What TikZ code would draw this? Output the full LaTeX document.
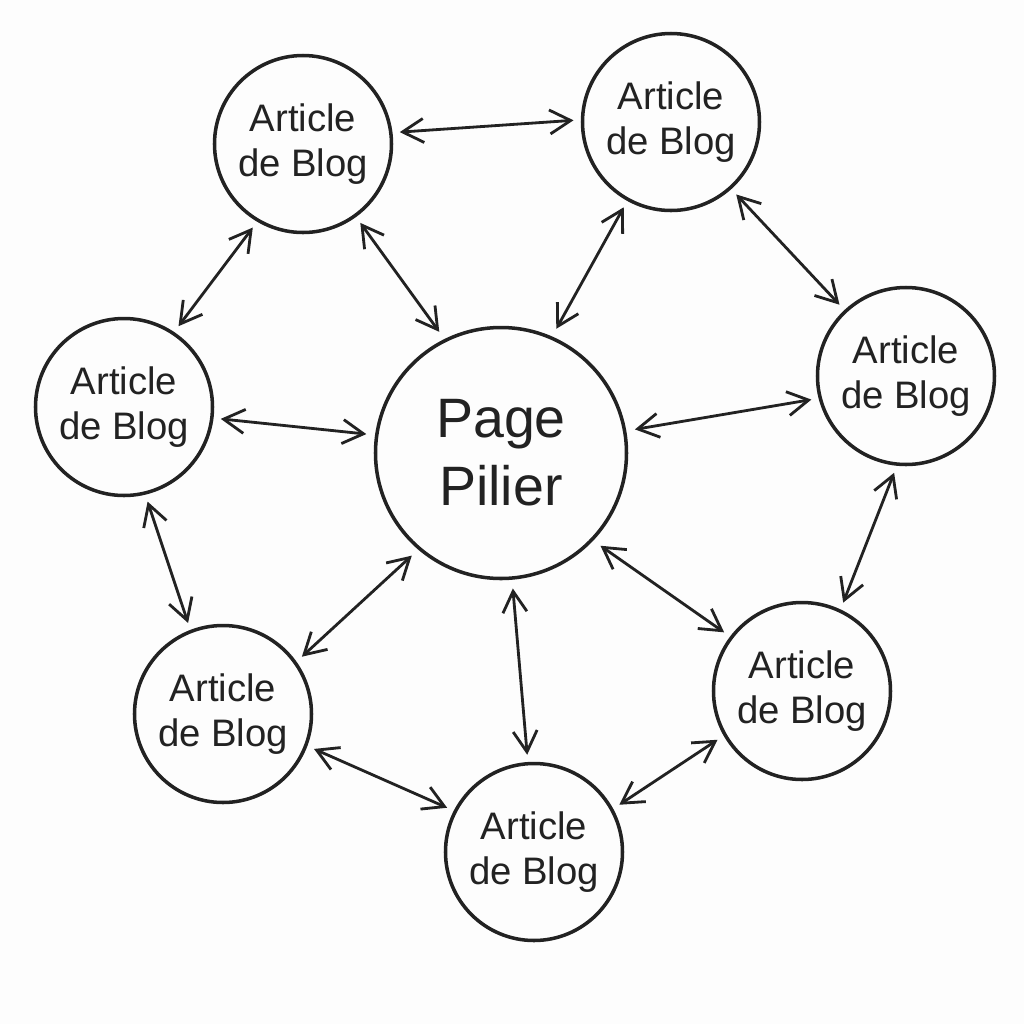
\documentclass[tikz,border=0pt]{standalone}
\usepackage{fontspec}
\setmainfont{Liberation Sans}
\usetikzlibrary{arrows.meta}
\definecolor{inkc}{HTML}{222222}
\definecolor{paperc}{HTML}{FDFDFD}
\tikzset{
    article/.style={draw=inkc, circle, line width=1pt, minimum size=1.77cm, inner sep=0pt, outer sep=0.09cm, text=inkc, align=center, font=\fontsize{10.9}{12.8}\selectfont},
    pillar/.style={article, minimum size=2.51cm, outer sep=0.105cm, font=\fontsize{15.8}{19.3}\selectfont},
    link/.style={draw=inkc, line width=0.8pt, {Straight Barb[length=2.1mm,width=2.4mm]}-{Straight Barb[length=2.1mm,width=2.4mm]}}
}
\begin{document}
\begin{tikzpicture}
    \fill[paperc] (0,0) rectangle (10.24,-10.24);
    \useasboundingbox (0,0) rectangle (10.24,-10.24);
    \node[pillar] (page) at (5.01,-4.53) {Page\\Pilier};
    \node[article] (art1) at (3.03,-1.44) {Article\\de Blog};
    \node[article] (art2) at (6.71,-1.22) {Article\\de Blog};
    \node[article] (art3) at (9.06,-3.76) {Article\\de Blog};
    \node[article] (art4) at (8.02,-6.91) {Article\\de Blog};
    \node[article] (art5) at (5.34,-8.52) {Article\\de Blog};
    \node[article] (art6) at (2.23,-7.14) {Article\\de Blog};
    \node[article] (art7) at (1.24,-4.07) {Article\\de Blog};

    % ring
    \draw[link] (art1.7.6) -- (art2.179.4);
    \draw[link] (art2.-48.2) -- (art3.133);
    \draw[link] (art3.-97.3) -- (art4.65.9);
    \draw[link] (art4.-150.3) -- (art5.29.7);
    \draw[link] (art5.153.2) -- (art6.-21.9);
    \draw[link] (art6.111.6) -- (art7.-76.5);
    \draw[link] (art7.56.3) -- (art1.-121.8);

    % spokes
    \draw[link] (art1.-54.6) -- (page.117.9);
    \draw[link] (art2.-119.4) -- (page.66.5);
    \draw[link] (art3.-166.5) -- (page.10.7);
    \draw[link] (art4.143.7) -- (page.-43.2);
    \draw[link] (art5.94) -- (page.-85);
    \draw[link] (art6.36.5) -- (page.-131.5);
    \draw[link] (art7.-7) -- (page.172.8);
\end{tikzpicture}
\end{document}
